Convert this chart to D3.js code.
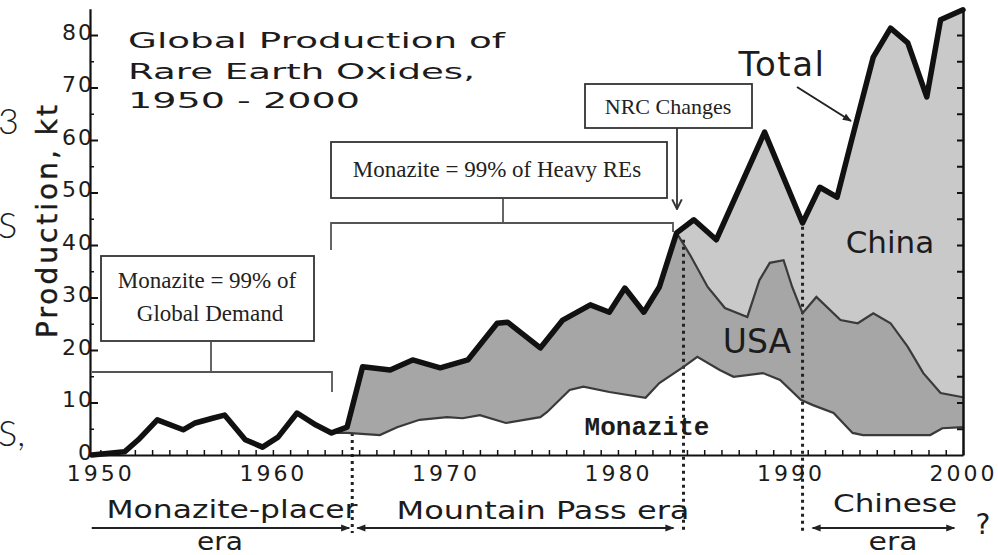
<!DOCTYPE html>
<html>
<head>
<meta charset="utf-8">
<script src="https://cdn.jsdelivr.net/npm/d3@7"></script>
<style>
  body { margin: 0; background: #fff; }
  svg { display: block; }
  text { font-family: "DejaVu Sans", sans-serif; fill: #1c1c1c; }
  .serif { font-family: "Liberation Serif", "Times New Roman", serif; fill: #222; }
  .mono { font-family: "Liberation Mono", "Courier New", monospace; }
  .stray { font-family: Lato, sans-serif; }
  .axis path, .axis line { stroke: #111; }
</style>
</head>
<body>
<div id="chart"></div>
<script>
// boundaries, kt of REO per year
const totalYears = [1949.5, 1951.4, 1952.2, 1953.3, 1954.8, 1955.5, 1956.5, 1957.2, 1958.4, 1959.4, 1960.3, 1961.4, 1962.5, 1963.4,
    1964.3, 1965.2, 1966.8, 1968.1, 1969.7, 1971.3, 1973.0, 1973.6, 1975.5, 1976.8, 1978.4, 1979.5, 1980.4, 1981.5, 1982.4,
    1983.4, 1984.4, 1985.7, 1988.5, 1990.7, 1991.7, 1992.7, 1993.5, 1994.8, 1995.8, 1996.8, 1997.9, 1998.7, 2000];
const totalValues = [0, 0.6, 2.9, 6.7, 4.8, 6.1, 7.0, 7.6, 2.9, 1.5, 3.4, 8.0, 5.7, 4.2,
    5.3, 16.8, 16.2, 18.1, 16.6, 18.1, 25.1, 25.3, 20.4, 25.7, 28.6, 27.2, 31.8, 27.2, 32.0,
    42.3, 44.8, 41.0, 61.5, 44.2, 51.0, 49.1, 59.4, 75.8, 81.3, 78.5, 68.2, 82.9, 84.8];

// top of the monazite share (white band), from 1963 on
const monaziteYears = [1963.4, 1964.3, 1966.2, 1967.2, 1968.5, 1970.1, 1971.0, 1972.0, 1973.5, 1975.5, 1975.9, 1977.2, 1978.0,
    1979.5, 1981.6, 1982.4, 1983.8, 1984.6, 1985.9, 1986.7, 1988.4, 1989.4, 1990.6, 1991.3, 1992.5, 1993.6, 1994.2,
    1998.1, 1998.8, 2000];
const monaziteValues = [4.2, 4.2, 3.8, 5.3, 6.7, 7.2, 7.0, 7.6, 6.1, 7.2, 8.2, 12.4, 13.0,
    12.0, 10.9, 13.7, 16.8, 18.7, 16.2, 14.9, 15.6, 14.3, 10.5, 9.5, 8.0, 4.2, 3.8,
    3.8, 5.1, 5.3];

// top of the USA band once China appears (before 1983 it follows the total)
const usaYears = [1983.4, 1984.2, 1985.2, 1986.2, 1987.5, 1988.2, 1988.8, 1989.6, 1990.1, 1990.7, 1991.5, 1992.9, 1993.9,
    1994.8, 1995.8, 1996.8, 1997.7, 1998.7, 2000];
const usaValues = [42.3, 38.0, 32.0, 28.0, 26.3, 33.3, 36.6, 37.1, 32.0, 27.0, 30.1, 25.7, 25.1,
    27.0, 25.1, 20.6, 15.6, 11.8, 11.0];

const decadeTicks = [1950, 1960, 1970, 1980, 1990, 2000];
const valueTicks = [0, 10, 20, 30, 40, 50, 60, 70, 80];
const eraBreaks = [1964.6, 1983.8, 1990.7];
const eraTops = [4.2, 41.0, 43.5];

class REOChart {
    constructor(id) {
        this.width = 998;
        this.height = 555;
        this.svg = d3.select(id).append("svg")
            .attr("width", this.width)
            .attr("height", this.height);

        this.x = d3.scaleLinear().domain([1949.4, 2000]).range([90, 963]);
        this.y = d3.scaleLinear().domain([0, 80]).range([455, 35]);

        const defs = this.svg.append("defs");
        defs.append("marker")
            .attr("id", "head")
            .attr("viewBox", "0 0 10 10")
            .attr("refX", 9).attr("refY", 5)
            .attr("markerWidth", 13).attr("markerHeight", 9)
            .attr("markerUnits", "userSpaceOnUse")
            .attr("orient", "auto-start-reverse")
            .append("path")
                .attr("d", "M0,1 L10,5 L0,9 Z")
                .attr("fill", "#222");
        defs.append("marker")
            .attr("id", "vhead")
            .attr("viewBox", "0 0 10 10")
            .attr("refX", 9).attr("refY", 5)
            .attr("markerWidth", 12).attr("markerHeight", 12)
            .attr("markerUnits", "userSpaceOnUse")
            .attr("orient", "auto")
            .append("path")
                .attr("d", "M1,1 L9,5 L1,9")
                .attr("fill", "none")
                .attr("stroke", "#333")
                .attr("stroke-width", 1.6);
    }

    pts(years, values) {
        return years.map((yr, i) => [yr, values[i]]);
    }

    drawAreas() {
        const total = this.pts(totalYears, totalValues);
        const usa = this.pts(usaYears, usaValues);
        const mona = this.pts(monaziteYears, monaziteValues);
        const line = d3.line().x(d => this.x(d[0])).y(d => this.y(d[1]));

        // USA band: total up to 1983, then the usa top, back along monazite
        const usaTop = total.filter(d => d[0] >= 1963.4 && d[0] < usaYears[0]).concat(usa);
        const usaPoly = usaTop.concat(mona.slice().reverse());
        this.svg.append("path")
            .attr("d", line(usaPoly) + "Z")
            .attr("fill", "#a6a6a6");

        // China band between usa top and total
        const chinaPoly = total.filter(d => d[0] >= usaYears[0]).concat(usa.slice().reverse());
        this.svg.append("path")
            .attr("d", line(chinaPoly) + "Z")
            .attr("fill", "#c9c9c9");

        // era separators
        this.svg.selectAll(".era-line")
            .data(eraBreaks)
            .enter()
            .append("line")
                .attr("class", "era-line")
                .attr("x1", d => this.x(d)).attr("x2", d => this.x(d))
                .attr("y1", (d, i) => this.y(eraTops[i]))
                .attr("y2", 533)
                .attr("stroke", "#222")
                .attr("stroke-width", 3)
                .attr("stroke-dasharray", "3,4");

        this.svg.append("path")
            .attr("d", line(usa))
            .attr("fill", "none")
            .attr("stroke", "#3a3a3a")
            .attr("stroke-width", 2.2);
        this.svg.append("path")
            .attr("d", line(mona))
            .attr("fill", "none")
            .attr("stroke", "#3a3a3a")
            .attr("stroke-width", 2.2);
        this.svg.append("path")
            .attr("d", line(total))
            .attr("fill", "none")
            .attr("stroke", "#111")
            .attr("stroke-width", 5.5)
            .attr("stroke-linejoin", "round")
            .attr("stroke-linecap", "round");
    }

    drawAxes() {
        const x = this.x;
        const yFull = this.y.copy().domain([0, 85]).range([this.y(0), this.y(85)]);

        // year ticks along the bottom
        this.svg.append("g")
            .attr("class", "axis")
            .attr("transform", "translate(0,455)")
            .call(d3.axisBottom(x).tickValues(d3.range(1950, 2001)).tickSizeInner(-5).tickSizeOuter(0).tickFormat(""))
            .call(g => g.select(".domain").attr("stroke-width", 2.2))
            .call(g => g.selectAll(".tick line").attr("stroke-width", 1.5));
        this.svg.append("g")
            .attr("transform", "translate(0,455)")
            .call(d3.axisBottom(x).tickValues(decadeTicks).tickSize(0).tickPadding(10).tickFormat(d3.format("d")))
            .call(g => g.select(".domain").remove())
            .call(g => g.selectAll("text")
                .attr("font-size", 22)
                .attr("letter-spacing", 3)
                .attr("fill", "#1c1c1c"));

        // left axis
        this.svg.append("g")
            .attr("class", "axis")
            .attr("transform", "translate(90,0)")
            .call(d3.axisLeft(yFull).tickValues(d3.range(5, 85, 10)).tickSizeInner(-4).tickSizeOuter(0).tickFormat(""))
            .call(g => g.select(".domain").attr("stroke-width", 2.2))
            .call(g => g.selectAll(".tick line").attr("stroke-width", 1.5));
        this.svg.append("g")
            .attr("class", "axis")
            .attr("transform", "translate(90,0)")
            .call(d3.axisLeft(this.y).tickValues(valueTicks).tickSizeInner(-8).tickSizeOuter(0).tickPadding(-4))
            .call(g => g.select(".domain").remove())
            .call(g => g.selectAll(".tick line").attr("stroke-width", 2))
            .call(g => g.selectAll("text")
                .attr("font-size", 22)
                .attr("letter-spacing", 2)
                .attr("dy", "0.2em")
                .attr("fill", "#1c1c1c"));

        // right frame with inward ticks
        this.svg.append("g")
            .attr("class", "axis")
            .attr("transform", "translate(963,0)")
            .call(d3.axisLeft(yFull).tickValues(d3.range(5, 85, 5)).tickSizeInner(6).tickSizeOuter(0).tickFormat(""))
            .call(g => g.select(".domain").attr("stroke-width", 2.5))
            .call(g => g.selectAll(".tick line").attr("stroke-width", 2));

        this.svg.append("text")
            .attr("transform", "translate(57,220) rotate(-90)")
            .attr("text-anchor", "middle")
            .attr("font-size", 28)
            .attr("letter-spacing", 3)
            .attr("fill", "#111")
            .attr("stroke", "#111")
            .attr("stroke-width", 0.4)
            .text("Production, kt");
    }

    drawNotes() {
        const svg = this.svg;
        const x = this.x;

        // title, wide geometric face in the scan
        const title = ["Global Production of", "Rare Earth Oxides,", "1950 - 2000"];
        const titleLen = [377, 347, 232];
        const titleY = [48, 79, 108];
        title.forEach((t, i) => {
            svg.append("text")
                .attr("x", 128).attr("y", titleY[i])
                .attr("font-size", 21)
                .attr("textLength", titleLen[i])
                .attr("lengthAdjust", "spacingAndGlyphs")
                .text(t);
        });

        // series labels
        svg.append("text").attr("x", 782).attr("y", 76).attr("text-anchor", "middle")
            .attr("font-size", 34).attr("letter-spacing", 1.5).text("Total");
        svg.append("line")
            .attr("x1", 797).attr("y1", 87).attr("x2", 851).attr("y2", 121)
            .attr("stroke", "#222").attr("stroke-width", 2)
            .attr("marker-end", "url(#head)");
        svg.append("text").attr("x", 890).attr("y", 253).attr("text-anchor", "middle")
            .attr("font-size", 31).attr("fill", "#2a2a2a").text("China");
        svg.append("text").attr("x", 757).attr("y", 353).attr("text-anchor", "middle")
            .attr("font-size", 33).attr("fill", "#2a2a2a").text("USA");
        svg.append("text").attr("class", "mono").attr("x", 647).attr("y", 435).attr("text-anchor", "middle")
            .attr("font-weight", "bold")
            .attr("font-size", 26).attr("fill", "#2a2a2a").text("Monazite");

        // boxed comments
        const box = (bx, by, bw, bh) => svg.append("rect")
            .attr("x", bx).attr("y", by).attr("width", bw).attr("height", bh)
            .attr("fill", "#fff").attr("stroke", "#333").attr("stroke-width", 1.8);
        box(585, 84, 167, 44);
        svg.append("text").attr("class", "serif").attr("x", 668).attr("y", 114)
            .attr("text-anchor", "middle").attr("font-size", 22).text("NRC Changes");
        svg.append("line")
            .attr("x1", 677).attr("y1", 128).attr("x2", 677).attr("y2", 209)
            .attr("stroke", "#333").attr("stroke-width", 1.8)
            .attr("marker-end", "url(#vhead)");

        box(331, 142, 336, 56);
        svg.append("text").attr("class", "serif").attr("x", 497).attr("y", 177)
            .attr("text-anchor", "middle").attr("font-size", 23).text("Monazite = 99% of Heavy REs");

        box(101, 256, 213, 85);
        svg.append("text").attr("class", "serif").attr("x", 207).attr("y", 288)
            .attr("text-anchor", "middle").attr("font-size", 23).text("Monazite = 99% of");
        svg.append("text").attr("class", "serif").attr("x", 210).attr("y", 321)
            .attr("text-anchor", "middle").attr("font-size", 23).text("Global Demand");

        // brackets under the boxes
        const bracket = d => svg.append("path").attr("d", d)
            .attr("fill", "none").attr("stroke", "#555").attr("stroke-width", 1.8);
        bracket("M331,250 L331,223 L673,223 L673,232");
        bracket("M503,223 L503,199");
        bracket("M92,372 L332,372 L332,392");
        bracket("M211,372 L211,342");

        // eras below the axis
        const arrow = (x1, x2, both) => svg.append("line")
            .attr("x1", x1).attr("x2", x2).attr("y1", 528).attr("y2", 528)
            .attr("stroke", "#222").attr("stroke-width", 2)
            .attr("marker-end", "url(#head)")
            .attr("marker-start", both ? "url(#head)" : null);
        arrow(x(1949.5), x(eraBreaks[0]) - 3, false);
        arrow(x(eraBreaks[0]) + 5, x(eraBreaks[1]) - 10, true);
        arrow(x(eraBreaks[2]) + 10, x(1999.5), true);

        const eraText = (t, cx, by, len, size) => svg.append("text")
            .attr("x", cx - len / 2).attr("y", by)
            .attr("font-size", size).attr("fill", "#222")
            .attr("textLength", len).attr("lengthAdjust", "spacingAndGlyphs")
            .text(t);
        eraText("Monazite-placer", 232, 518, 251, 25);
        eraText("era", 220, 550, 46, 25);
        eraText("Mountain Pass era", 543, 519, 293, 25);
        eraText("Chinese", 895, 512, 124, 25);
        eraText("era", 893, 550, 49, 25);
        svg.append("text").attr("x", 983).attr("y", 534).attr("text-anchor", "middle")
            .attr("font-size", 28).attr("fill", "#222").text("?");

        // cut-off letters from the page the figure was cropped from
        const stray = [["3", 134], ["S", 238], ["S,", 446]];
        svg.selectAll(".stray")
            .data(stray)
            .enter()
            .append("text")
                .attr("class", "stray")
                .attr("x", -2).attr("y", d => d[1])
                .attr("font-weight", 300)
                .attr("font-size", 36)
                .attr("fill", "#6a6a6a")
                .text(d => d[0]);
    }

    draw() {
        this.drawAreas();
        this.drawAxes();
        this.drawNotes();
    }
}

const chart = new REOChart("#chart");
chart.draw();
</script>
</body>
</html>
